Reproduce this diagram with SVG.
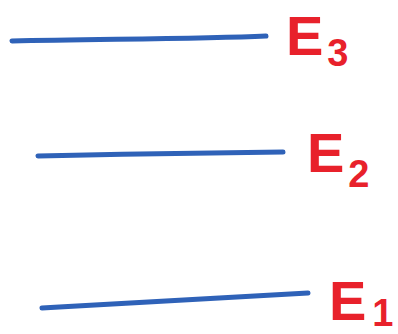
<svg xmlns="http://www.w3.org/2000/svg" width="398" height="334" viewBox="0 0 398 334">
  <style>
    .level { fill: none; stroke: #2f62b8; stroke-width: 5; stroke-linecap: round; }
    .label { fill: #e8212b; font-family: "Liberation Sans", Arial, sans-serif; font-size: 56px; font-weight: bold; }
    .sub { font-size: 38px; }
  </style>
  <rect width="398" height="334" fill="#ffffff"/>
  <g id="connectors">
    <path class="level" d="M12 41 C 100 39, 200 39, 266 36"/>
    <path class="level" d="M38 156 C 120 154, 220 153, 283 152"/>
    <path class="level" d="M42 308 C 140 302, 240 296, 308 293"/>
  </g>
  <g id="E3">
    <text class="label" x="286" y="55">E<tspan class="sub" dx="4" dy="11">3</tspan></text>
  </g>
  <g id="E2">
    <text class="label" x="307" y="172">E<tspan class="sub" dx="4" dy="15">2</tspan></text>
  </g>
  <g id="E1">
    <text class="label" x="329" y="320">E<tspan class="sub" dx="6" dy="6">1</tspan></text>
  </g>
</svg>
